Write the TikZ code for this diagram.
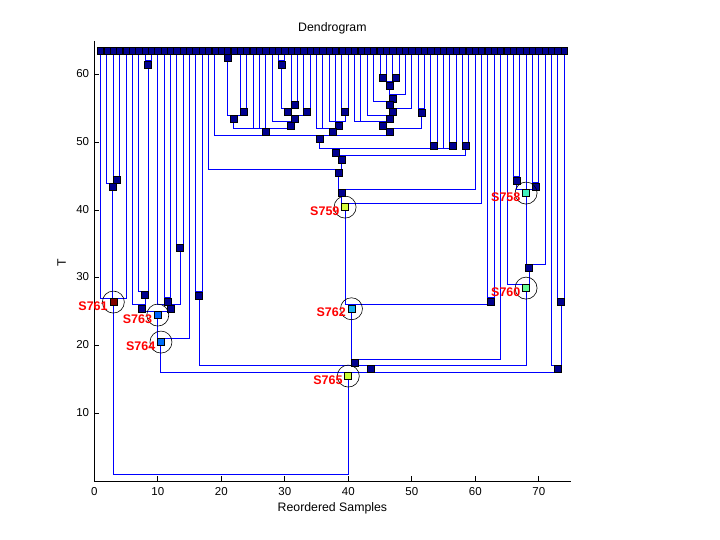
\documentclass[tikz,border=0pt]{standalone}
\usepackage{fontspec}
\setmainfont{Liberation Sans}
\definecolor{navy}{RGB}{0,0,143}
\definecolor{cS761}{RGB}{128,0,0}
\definecolor{cS763}{RGB}{0,100,255}
\definecolor{cS764}{RGB}{0,110,250}
\definecolor{cS762}{RGB}{20,178,240}
\definecolor{cS765}{RGB}{204,255,51}
\definecolor{cS759}{RGB}{214,255,60}
\definecolor{cS758}{RGB}{64,240,190}
\definecolor{cS760}{RGB}{100,255,150}
\begin{document}
\begin{tikzpicture}[x=6.35pt,y=6.77pt,
  link/.style={draw=blue, line width=1pt},
  sq/.style={draw=black, line width=0.6pt, fill=navy, minimum width=7pt, minimum height=7pt, inner sep=0pt, anchor=north},
  leafsq/.style={sq, minimum width=6.2pt},
  ring/.style={draw=black, line width=0.6pt, circle, minimum size=22pt, inner sep=0pt},
  lab/.style={text=red, font=\bfseries\fontsize{12.5}{12.5}\selectfont, anchor=east, inner sep=0pt},
  axlab/.style={font=\fontsize{12.3}{12.3}\selectfont, inner sep=0pt},
  ticklab/.style={font=\fontsize{11.5}{11.5}\selectfont, inner sep=0pt}]
\useasboundingbox[fill=white] (-14.85,-8.715) rectangle (98.54,71.05);
% leaves
\foreach \i in {1,...,74} {\coordinate (L\i) at (\i,64.1);}
% internal nodes
\foreach \n/\x/\y in {n34/3.5/45.05, n24/2.9/43.97, S761/3.0/26.99,
  n89/8.5/62.04, n79/8.0/28.06, n69/7.5/26.0, n1112/11.5/27.08, n1314/13.5/34.96,
  n1014/12.0/26.0, S763/10.0/25.07, S764/10.5/21.08, n1617/16.5/27.96,
  n2022/21/63.0, n2324/23.5/55.05, n2024/22/54.0, n2930/29.5/62.04, n3132/31.5/56.1,
  n2932/30.5/55.05, n3334/33.5/55.05, n2934/31.5/54.0, n2834/31/53.03, n2034/27/52.1,
  n3940/39.5/55.05, n3740/38.5/53.03, n3540/37.5/52.1,
  n4546/45.5/60.07, n4748/47.5/60.07, n4548/46.5/58.98, n4549/47/57.06, n4449/46.5/56.09,
  n4450/47/55.05, n4350/46.5/54.06, n4150/45.5/53.03, n5152/51.5/55.0, n4152/46.5/52.1,
  n1952/35.5/51.06, n5354/53.5/50.07, n5657/56.5/50.07, n5859/58.5/50.0,
  n1957/38/49.04, n1959/39/48.05, n1859/38.5/46.04, n1860/39/43.09, S759/39.5/41.02,
  n6263/62.5/27.08, S762/40.5/26.0, nP/41/17.98,
  n6667/66.5/44.95, n6970/69.5/44.06, S758/68/43.09, n6671/68.5/32.01, S760/68/29.05,
  nQ/43.5/17.09, n7374/73.5/26.99, nR/73/17.09, S765/40/16.06, root/37.5/0.99}
  {\coordinate (\n) at (\x,\y);}
% links
\foreach \c/\p in {L3/n34, L4/n34, L2/n24, n34/n24, L1/S761, n24/S761, L5/S761,
  L8/n89, L9/n89, L7/n79, n89/n79, L6/n69, n79/n69,
  L11/n1112, L12/n1112, L13/n1314, L14/n1314, L10/n1014, n1112/n1014, n1314/n1014,
  n69/S763, n1014/S763, S763/S764, L15/S764, L16/n1617, L17/n1617,
  L20/n2022, L21/n2022, L22/n2022, L23/n2324, L24/n2324, n2022/n2024, n2324/n2024,
  L29/n2930, L30/n2930, L31/n3132, L32/n3132, n2930/n2932, n3132/n2932, L33/n3334, L34/n3334,
  n2932/n2934, n3334/n2934, L28/n2834, n2934/n2834,
  n2024/n2034, L25/n2034, L26/n2034, L27/n2034, n2834/n2034,
  L39/n3940, L40/n3940, L37/n3740, L38/n3740, n3940/n3740, L35/n3540, L36/n3540, n3740/n3540,
  L45/n4546, L46/n4546, L47/n4748, L48/n4748, n4546/n4548, n4748/n4548, n4548/n4549, L49/n4549,
  L44/n4449, n4549/n4449, n4449/n4450, L50/n4450, L43/n4350, n4450/n4350,
  L41/n4150, L42/n4150, n4350/n4150, L51/n5152, L52/n5152, n4150/n4152, n5152/n4152,
  L19/n1952, n2034/n1952, n3540/n1952, n4152/n1952,
  L53/n5354, L54/n5354, L56/n5657, L57/n5657, L58/n5859, L59/n5859,
  n1952/n1957, n5354/n1957, L55/n1957, n5657/n1957, n1957/n1959, n5859/n1959,
  L18/n1859, n1959/n1859, n1859/n1860, L60/n1860, n1860/S759, L61/S759,
  L62/n6263, L63/n6263, S759/S762, n6263/S762, S762/nP, L64/nP,
  L66/n6667, L67/n6667, L69/n6970, L70/n6970, n6667/S758, L68/S758, n6970/S758,
  S758/n6671, L71/n6671, L65/S760, n6671/S760,
  n1617/nQ, nP/nQ, S760/nQ, L73/n7374, L74/n7374, L72/nR, n7374/nR,
  S764/S765, nQ/S765, nR/S765, S761/root, S765/root}
  {\draw[link] (\c) |- (\p);}
% axes
\draw[line width=0.8pt] (0,65) -- (0,0) -- (75,0);
\foreach \x in {0,10,...,70} {
  \draw[line width=0.8pt] (\x,0) -- ++(0,4.5pt);
  \node[ticklab, anchor=north] (xt\x) at ([yshift=-6.7pt]\x,0) {\x};}
\foreach \y in {10,20,...,60} {
  \draw[line width=0.8pt] (0,\y) -- ++(4.5pt,0);
  \node[ticklab, anchor=east] (yt\y) at ([xshift=-5pt,yshift=1pt]0,\y) {\y};}
\node[axlab, anchor=north] (title) at (37.5,67.7) {Dendrogram};
\node[axlab, anchor=north] (xlab) at ([yshift=-21.3pt]37.5,0) {Reordered Samples};
\node[axlab, rotate=90] (ylab) at (-5.13,32.25) {T};
% dark squares
\foreach \i in {1,...,74} {\node[leafsq] (q-L\i) at (L\i) {};}
\foreach \n in {n34, n24, n89, n79, n69, n1112, n1314, n1014, n1617,
  n2022, n2324, n2024, n2930, n3132, n2932, n3334, n2934, n2834, n2034,
  n3940, n3740, n3540, n4546, n4748, n4548, n4549, n4449, n4450, n4350, n4150, n5152, n4152,
  n1952, n5354, n5657, n5859, n1957, n1959, n1859, n1860, n6263, nP,
  n6667, n6970, n6671, nQ, n7374, nR}
  {\node[sq] (q-\n) at (\n) {};}
% highlighted clusters
\foreach \n in {S761, S763, S764, S762, S765, S759, S758, S760} {
  \node[sq, fill=c\n] (q-\n) at (\n) {};
  \node[ring] (r-\n) at (q-\n.center) {};
  \node[lab] (t-\n) at ([xshift=-5.5pt,yshift=-3.7pt]q-\n.center) {\n};}
\end{tikzpicture}
\end{document}
